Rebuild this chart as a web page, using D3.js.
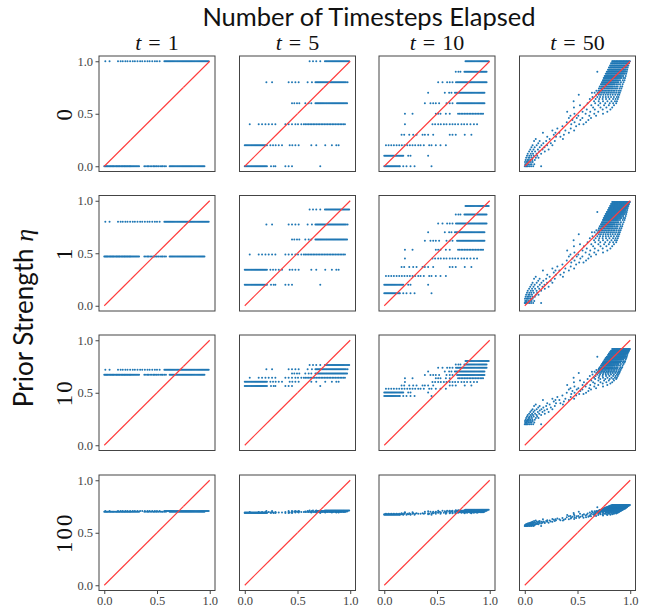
<!DOCTYPE html>
<html>
<head>
<meta charset="utf-8">
<script src="https://cdn.jsdelivr.net/npm/d3@7"></script>
<style>
  html, body { margin: 0; padding: 0; background: #fff; }
  svg { display: block; }
</style>
</head>
<body>
<svg id="chart" width="650" height="609"></svg>
<script>
// ---- labels ----
const stepLabels = ["1", "5", "10", "50"];
const etaLabels = ["0", "1", "10", "100"];
const axisTicks = [0, 0.5, 1];
const axisTickLabels = ["0.0", "0.5", "1.0"];
const diagonal = [[0, 0], [0.25, 0.25], [0.5, 0.5], [0.75, 0.75], [1, 1]];

// ---- episodes: x position grouped by number of successes k (index) ----
const runsT1 = [
  [0.00,0.008,0.016,0.024,0.03,0.04,0.05,0.058,0.066,0.075,0.083,0.09,0.10,0.11,0.118,0.125,0.135,0.142,0.15,0.16,0.168,0.176,0.185,0.193,0.20,0.21,0.218,0.226,0.235,0.243,0.25,0.26,0.27,0.28,0.29,0.30,0.31,0.32,0.33,
   0.38,0.395,0.41,0.42,0.435,0.45,0.465,0.475,0.49,0.50,0.515,0.53,0.545,0.555,0.57,0.585,
   0.62,0.63,0.64,0.65,0.66,0.67,0.68,0.69,0.70,0.71,0.72,0.73,0.74,0.75,0.76,0.77,0.78,0.79,0.80,0.81,0.82,0.83,0.84,0.85,0.86,0.87,0.88,0.89,0.90,0.91,0.92,0.93,0.94,0.95],
  [0.01,0.05,0.13,0.155,0.175,0.20,0.22,0.245,0.27,0.29,0.315,0.34,0.36,0.385,0.41,0.43,0.455,0.48,0.50,0.525,
   0.57,0.58,0.59,0.60,0.61,0.62,0.63,0.64,0.65,0.66,0.67,0.68,0.69,0.70,0.71,0.72,0.73,0.74,0.75,0.76,0.77,0.78,0.79,0.80,0.81,0.82,0.83,0.84,0.85,0.86,0.87,0.88,0.89,0.90,0.91,0.92,0.93,0.94,0.95,0.96,0.97,0.98,0.99]
];

const runsT5 = [
  [0,0.01,0.02,0.03,0.04,0.05,0.06,0.07,0.08,0.09,0.10,0.11,0.12,0.13,0.14,0.15,0.16,0.17,0.18,0.19,0.20,0.21,0.249,0.274,0.29,0.385,0.416,0.448,0.716],
  [0,0.01,0.02,0.03,0.04,0.05,0.06,0.07,0.08,0.09,0.10,0.11,0.12,0.13,0.14,0.15,0.16,0.17,0.18,0.19,0.20,0.21,0.243,0.268,0.293,0.322,0.353,0.426,0.451,0.48,0.511,0.631,0.678,0.763,0.826,0.868,0.89],
  [0.047,0.132,0.164,0.196,0.227,0.259,0.29,0.385,0.416,0.448,0.48,0.505,0.536,0.56,0.574,0.59,0.605,0.62,0.635,0.65,0.665,0.68,0.695,0.71,0.725,0.74,0.755,0.77,0.785,0.80,0.815,0.83,0.845,0.86,0.875,0.89,0.905,0.92,0.935,0.95],
  [0.448,0.47,0.495,0.517,0.574,0.606,0.631,0.67,0.68,0.69,0.70,0.71,0.72,0.73,0.74,0.75,0.76,0.77,0.78,0.79,0.80,0.81,0.82,0.83,0.84,0.85,0.86,0.87,0.88,0.89,0.90,0.91,0.92,0.93,0.94,0.95,0.96,0.97],
  [0.205,0.259,0.416,0.448,0.48,0.511,0.596,0.637,0.67,0.68,0.69,0.70,0.71,0.72,0.73,0.74,0.75,0.76,0.77,0.78,0.79,0.80,0.81,0.82,0.83,0.84,0.85,0.86,0.87,0.88,0.89,0.90,0.91,0.92,0.93,0.94,0.95,0.96,0.975],
  [0.615,0.647,0.678,0.716,0.76,0.77,0.78,0.79,0.80,0.81,0.82,0.83,0.84,0.85,0.86,0.87,0.88,0.89,0.90,0.91,0.92,0.93,0.94,0.95,0.96,0.97,0.98,0.99]
];

const runsT10 = [
  [0,0.01,0.02,0.03,0.04,0.05,0.06,0.07,0.08,0.09,0.10,0.11,0.12,0.13,0.14,0.148,0.18,0.211,0.249,0.287,0.448],
  [0,0.01,0.02,0.03,0.04,0.05,0.06,0.07,0.08,0.09,0.10,0.11,0.12,0.13,0.14,0.15,0.16,0.17,0.18,0.227,0.249,0.416],
  [0.016,0.041,0.066,0.091,0.117,0.142,0.167,0.192,0.218,0.243,0.268,0.293,0.322,0.344,0.375,0.426,0.448,0.489,0.533,0.584],
  [0.164,0.189,0.237,0.274,0.306,0.363,0.385,0.416,0.464,0.621,0.647,0.678,0.763,0.826],
  [0.196,0.457,0.482,0.511,0.536,0.565,0.59,0.621,0.647,0.672,0.70,0.732,0.757,0.785,0.817,0.85,0.88],
  [0.196,0.268,0.489,0.511,0.533,0.584,0.621,0.70,0.715,0.73,0.745,0.76,0.775,0.79,0.805,0.82,0.835,0.85,0.865,0.88,0.895,0.91,0.925,0.937],
  [0.385,0.438,0.464,0.489,0.52,0.59,0.621,0.647,0.69,0.70,0.71,0.72,0.73,0.74,0.75,0.76,0.77,0.78,0.79,0.80,0.81,0.82,0.83,0.84,0.85,0.86,0.87,0.88,0.89,0.90,0.91,0.92,0.93,0.94,0.95],
  [0.416,0.574,0.615,0.637,0.67,0.68,0.69,0.70,0.71,0.72,0.73,0.74,0.75,0.76,0.77,0.78,0.79,0.80,0.81,0.82,0.83,0.84,0.85,0.86,0.87,0.88,0.89,0.90,0.91,0.92,0.93,0.94,0.95],
  [0.511,0.552,0.596,0.621,0.647,0.68,0.69,0.70,0.71,0.72,0.73,0.74,0.75,0.76,0.77,0.78,0.79,0.80,0.81,0.82,0.83,0.84,0.85,0.86,0.87,0.88,0.89,0.90,0.91,0.92,0.93,0.94,0.95,0.96,0.97],
  [0.678,0.703,0.722,0.76,0.77,0.78,0.79,0.80,0.81,0.82,0.83,0.84,0.85,0.86,0.87,0.88,0.89,0.90,0.91,0.92,0.93,0.94,0.95,0.96,0.97],
  [0.77,0.78,0.79,0.80,0.81,0.82,0.83,0.84,0.85,0.86,0.87,0.88,0.89,0.90,0.91,0.92,0.93,0.94,0.95,0.96,0.97,0.98,0.99]
];

const runsT50 = [
  [0,0.007,0.015,0.022,0.03,0.045,0.06,0.08,0.155],
  [0.004,0.012,0.02,0.035,0.05,0.065,0.09],
  [0.002,0.018,0.027,0.04,0.058,0.075],
  [0.008,0.025,0.038,0.052,0.072,0.095],
  [0.013,0.034,0.047,0.068,0.105,0.13],
  [0.021,0.043,0.062,0.085,0.118],
  [0.028,0.057,0.078,0.112,0.155],
  [0.041,0.069,0.098,0.137,0.19],
  [0.052,0.083,0.124,0.168,0.226],
  [0.063,0.094,0.142,0.187],
  [0.074,0.113,0.158,0.212,0.262],
  [0.128,0.176,0.247],
  [0.088,0.141,0.203,0.285],
  [0.104,0.236,0.362],
  [0.213,0.296,0.338],
  [0.275,0.371],
  [0.172,0.291,0.328,0.418],
  [0.262,0.385,0.468],
  [0.309,0.436],
  [0.357,0.487],
  [0.441,0.516,0.557],
  [0.398,0.472,0.581],
  [0.452,0.527,0.603],
  [0.418,0.493,0.546,0.628],
  [0.433,0.508,0.612,0.676],
  [0.471,0.577,0.659,0.742],
  [0.402,0.548,0.621,0.697,0.783],
  [0.588,0.664,0.739,0.812],
  [0.466,0.561,0.648,0.718,0.774,0.829],
  [0.524,0.631,0.698,0.752,0.797,0.846],
  [0.596,0.668,0.716,0.763,0.806,0.838,0.867],
  [0.463,0.657,0.701,0.742,0.784,0.822,0.855,0.874],
  [0.617,0.672,0.706,0.738,0.771,0.803,0.837,0.861,0.882],
  [0.642,0.688,0.714,0.741,0.768,0.793,0.818,0.845,0.873,0.889],
  [0.512,0.678,0.703,0.722,0.745,0.767,0.789,0.812,0.834,0.858,0.881,0.896],
  [0.637,0.662,0.691,0.708,0.724,0.742,0.758,0.776,0.791,0.809,0.827,0.846,0.866,0.887,0.902],
  [0.679,0.698,0.711,0.724,0.737,0.751,0.764,0.779,0.793,0.807,0.822,0.838,0.853,0.872,0.893,0.909],
  [0.703,0.716,0.727,0.737,0.748,0.759,0.771,0.782,0.793,0.806,0.818,0.831,0.846,0.862,0.875,0.898,0.916],
  [0.711,0.724,0.733,0.741,0.75,0.758,0.767,0.776,0.785,0.794,0.803,0.813,0.824,0.835,0.849,0.866,0.881,0.907,0.924],
  [0.722,0.731,0.739,0.747,0.755,0.763,0.771,0.779,0.788,0.796,0.804,0.813,0.822,0.832,0.843,0.852,0.867,0.884,0.903,0.928],
  [0.732,0.74,0.747,0.755,0.763,0.771,0.779,0.787,0.795,0.803,0.811,0.819,0.828,0.837,0.846,0.856,0.866,0.878,0.889,0.912,0.937],
  [0.741,0.749,0.756,0.764,0.772,0.78,0.788,0.795,0.803,0.811,0.819,0.827,0.836,0.844,0.853,0.862,0.871,0.881,0.893,0.904,0.929,0.946],
  [0.749,0.757,0.765,0.772,0.78,0.788,0.796,0.804,0.812,0.82,0.828,0.835,0.843,0.851,0.86,0.868,0.877,0.886,0.896,0.907,0.919,0.938,0.951],
  [0.758,0.766,0.774,0.782,0.789,0.797,0.805,0.813,0.821,0.828,0.836,0.844,0.852,0.86,0.868,0.876,0.884,0.893,0.901,0.911,0.922,0.934,0.957],
  [0.768,0.776,0.784,0.791,0.799,0.807,0.815,0.822,0.83,0.838,0.846,0.853,0.861,0.869,0.877,0.884,0.892,0.9,0.908,0.916,0.925,0.936,0.948,0.962],
  [0.688,0.778,0.786,0.794,0.801,0.809,0.817,0.825,0.832,0.84,0.848,0.855,0.863,0.871,0.878,0.886,0.894,0.901,0.909,0.917,0.925,0.933,0.942,0.953,0.967],
  [0.789,0.797,0.804,0.812,0.82,0.827,0.835,0.842,0.85,0.858,0.865,0.873,0.88,0.888,0.896,0.903,0.911,0.918,0.926,0.934,0.941,0.949,0.958,0.971],
  [0.798,0.807,0.814,0.822,0.829,0.838,0.845,0.852,0.86,0.867,0.875,0.883,0.89,0.897,0.905,0.912,0.92,0.927,0.935,0.942,0.95,0.957,0.964,0.976],
  [0.809,0.816,0.825,0.831,0.839,0.847,0.854,0.861,0.87,0.876,0.884,0.892,0.899,0.906,0.914,0.921,0.929,0.936,0.943,0.951,0.958,0.966,0.973,0.982],
  [0.818,0.827,0.833,0.842,0.849,0.856,0.864,0.871,0.879,0.885,0.894,0.901,0.908,0.916,0.923,0.931,0.938,0.944,0.953,0.96,0.967,0.975,0.981,0.989],
  [0.829,0.836,0.845,0.851,0.858,0.867,0.874,0.88,0.889,0.896,0.903,0.911,0.918,0.925,0.934,0.94,0.947,0.955,0.962,0.969,0.977,0.984,0.99,0.997]
];

// ---- predicted value for each k, one row per prior strength ----
const levelsT1 = [
  [0, 1],
  [0.47, 0.80],
  [0.671, 0.719],
  [0.701, 0.706]
];
const levelsT5 = [
  [0, 0.2, 0.4, 0.6, 0.8, 1],
  [0.201, 0.344, 0.487, 0.630, 0.773, 0.916],
  [0.564, 0.604, 0.644, 0.684, 0.724, 0.764],
  [0.688, 0.693, 0.698, 0.702, 0.707, 0.712]
];
const levelsT10 = [
  [0, 0.1, 0.2, 0.3, 0.4, 0.5, 0.6, 0.7, 0.8, 0.9, 1],
  [0.118, 0.201, 0.284, 0.368, 0.451, 0.534, 0.618, 0.701, 0.784, 0.868, 0.951],
  [0.470, 0.503, 0.537, 0.570, 0.603, 0.637, 0.670, 0.703, 0.737, 0.770, 0.803],
  [0.671, 0.676, 0.681, 0.686, 0.690, 0.695, 0.700, 0.705, 0.710, 0.714, 0.719]
];
const levelsT50 = [
  [0,0.02,0.04,0.06,0.08,0.10,0.12,0.14,0.16,0.18,0.20,0.22,0.24,0.26,0.28,0.30,0.32,0.34,0.36,0.38,0.40,0.42,0.44,0.46,0.48,0.50,
   0.52,0.54,0.56,0.58,0.60,0.62,0.64,0.66,0.68,0.70,0.72,0.74,0.76,0.78,0.80,0.82,0.84,0.86,0.88,0.90,0.92,0.94,0.96,0.98,1.00],
  [0.027,0.046,0.066,0.085,0.104,0.123,0.143,0.162,0.181,0.200,0.219,0.239,0.258,0.277,0.296,0.316,0.335,0.354,0.373,0.393,0.412,0.431,0.450,0.470,0.489,0.508,
   0.527,0.546,0.566,0.585,0.604,0.623,0.643,0.662,0.681,0.700,0.719,0.739,0.758,0.777,0.796,0.816,0.835,0.854,0.873,0.893,0.912,0.931,0.950,0.970,0.989],
  [0.201,0.216,0.230,0.244,0.259,0.273,0.287,0.301,0.316,0.330,0.344,0.359,0.373,0.387,0.401,0.416,0.430,0.444,0.459,0.473,0.487,0.501,0.516,0.530,0.544,0.559,
   0.573,0.587,0.601,0.616,0.630,0.644,0.659,0.673,0.687,0.701,0.716,0.730,0.744,0.759,0.773,0.787,0.801,0.816,0.830,0.844,0.859,0.873,0.887,0.901,0.916],
  [0.564,0.568,0.572,0.576,0.580,0.584,0.588,0.592,0.596,0.600,0.604,0.608,0.612,0.616,0.620,0.624,0.628,0.632,0.636,0.640,0.644,0.648,0.652,0.656,0.660,0.664,
   0.668,0.672,0.676,0.680,0.684,0.688,0.692,0.696,0.700,0.704,0.708,0.712,0.716,0.720,0.724,0.728,0.732,0.736,0.740,0.744,0.748,0.752,0.756,0.760,0.764]
];

// ---- layout ----
const runsByStep = [runsT1, runsT5, runsT10, runsT50];
const levelsByStep = [levelsT1, levelsT5, levelsT10, levelsT50];
const panelLeft = [99, 239.5, 379, 519.5];
const panelTop = [56, 195.5, 335, 475];
const panelW = 116, panelH = 115.5;
const frameColor = "#444";
const lineColor = "rgb(255,60,60)";
const serif = "'Liberation Serif', 'DejaVu Serif', serif";
const sans = "Lato, 'Open Sans', sans-serif";

const svg = d3.select("#chart");

svg.append("rect")
  .attr("width", 650).attr("height", 609)
  .attr("fill", "#ffffff");

etaLabels.forEach((eta, r) => {
  stepLabels.forEach((step, c) => {
    const g = svg.append("g")
      .attr("transform", `translate(${panelLeft[c]},${panelTop[r]})`);
    const x = d3.scaleLinear().domain([-0.05, 1.05]).range([0, panelW]);
    const y = d3.scaleLinear().domain([-0.05, 1.05]).range([panelH, 0]);

    const levels = levelsByStep[c][r];
    const points = [];
    runsByStep[c].forEach((xs, k) => xs.forEach(v => points.push([v, levels[k]])));

    g.append("g")
      .attr("fill", "#1f77b4")
      .selectAll("circle")
      .data(points)
      .join("circle")
      .attr("cx", d => x(d[0]))
      .attr("cy", d => y(d[1]))
      .attr("r", 1.0);

    // identity reference line, drawn as short red segments
    g.append("g")
      .selectAll("line")
      .data(d3.pairs(diagonal))
      .join("line")
      .attr("x1", d => x(d[0][0])).attr("y1", d => y(d[0][1]))
      .attr("x2", d => x(d[1][0])).attr("y2", d => y(d[1][1]))
      .style("stroke", lineColor)
      .style("stroke-width", "1.1px");

    g.append("rect")
      .attr("width", panelW).attr("height", panelH)
      .attr("fill", "none")
      .attr("stroke", frameColor)
      .attr("stroke-width", 1);

    const styleAxis = sel => {
      sel.select(".domain").remove();
      sel.selectAll(".tick line").attr("stroke", frameColor);
      sel.selectAll(".tick text")
        .attr("fill", "#444")
        .style("font-family", serif)
        .style("font-size", "12.5px");
    };

    if (c === 0) {
      g.append("g")
        .call(d3.axisLeft(y).tickValues(axisTicks)
          .tickFormat((d, i) => axisTickLabels[i]).tickSize(3.5).tickPadding(2.5))
        .call(styleAxis);
    }
    if (r === etaLabels.length - 1) {
      g.append("g")
        .attr("transform", `translate(0,${panelH})`)
        .call(d3.axisBottom(x).tickValues(axisTicks)
          .tickFormat((d, i) => axisTickLabels[i]).tickSize(3.5).tickPadding(2.5))
        .call(styleAxis);
    }
  });
});

// column titles
stepLabels.forEach((step, c) => {
  const t = svg.append("text")
    .attr("x", panelLeft[c] + panelW / 2)
    .attr("y", 50)
    .attr("text-anchor", "middle")
    .style("font-family", serif)
    .style("font-size", "22px")
    .attr("fill", "#111");
  t.append("tspan").style("font-style", "italic").text("t");
  t.append("tspan").attr("dx", 7).text("=");
  t.append("tspan").attr("dx", 7).text(step);
});

// row labels
etaLabels.forEach((eta, r) => {
  svg.append("text")
    .attr("transform", `translate(72,${panelTop[r] + panelH / 2}) rotate(-90)`)
    .attr("text-anchor", "middle")
    .style("font-family", serif)
    .style("font-size", "23px")
    .style("letter-spacing", "2px")
    .attr("fill", "#111")
    .text(eta);
});

// figure titles
svg.append("text")
  .attr("x", 369)
  .attr("y", 26)
  .attr("text-anchor", "middle")
  .style("font-family", sans)
  .style("font-size", "25.5px")
  .attr("fill", "#111")
  .text("Number of Timesteps Elapsed");

const ylab = svg.append("text")
  .attr("transform", "translate(33,318) rotate(-90)")
  .attr("text-anchor", "middle")
  .style("font-family", sans)
  .style("font-size", "26px")
  .attr("fill", "#111");
ylab.append("tspan").text("Prior Strength ");
ylab.append("tspan").style("font-family", serif).style("font-style", "italic").text("η");
</script>
</body>
</html>
